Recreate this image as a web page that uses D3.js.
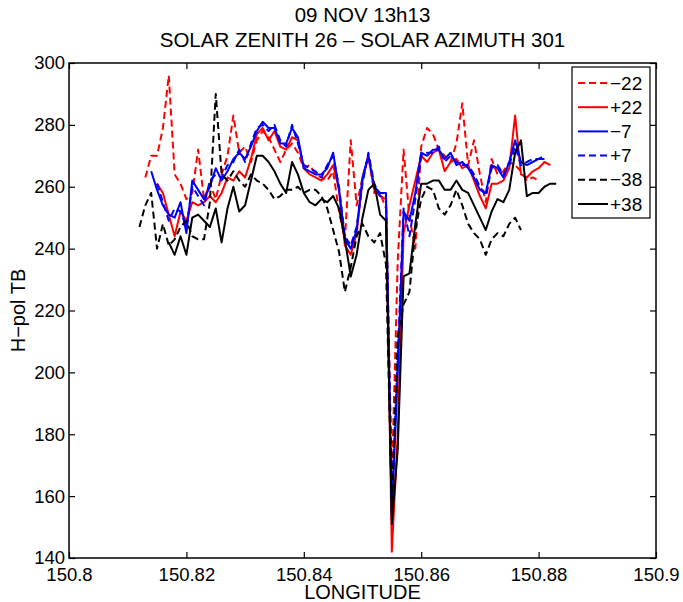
<!DOCTYPE html>
<html>
<head>
<meta charset="utf-8">
<script src="https://cdn.jsdelivr.net/npm/d3@7"></script>
<style>
  body { margin: 0; background: #fff; }
  svg { display: block; }
  text { font-family: "Liberation Sans", Arial, Helvetica, sans-serif; fill: #000; }
</style>
</head>
<body>
<svg id="chart" width="683" height="602"></svg>
<script>
// Longitude samples (one every 0.001 deg) shared by all incidence-angle tracks
const longitude = d3.range(72).map(k => +(150.812 + k * 0.001).toFixed(3));

// H-pol brightness temperature (K) per incidence angle; null = no sample
const tbMinus22 = [null,
  263,270,270,279,296,264,261,256,258,272,256,261,256,264,270,283,271,273,268,275,
  278,276,272,268,272,274,271,266,267,264,263,262,265,252,243,275,254,263,270,258,
  258,253,165,236,272,250,240,273,279,277,272,270,268,274,287,267,275,264,255,269,
  264,265,268,267,265,262,263,262,
  null,null,null];
const tbPlus22 = [null,null,null,
  261,258,251,244,252,249,255,254,255,257,255,258,263,262,265,263,269,277,279,275,
  278,273,272,276,275,266,264,263,262,264,267,259,241,238,245,262,270,259,257,256,
  142,180,245,254,262,270,268,271,272,265,268,269,266,267,262,257,253,261,261,262,
  266,283,264,263,265,266,268,267,
  null];
const tbMinus7 = [null,null,
  265,259,254,251,250,255,245,262,259,256,260,266,262,265,269,271,269,273,278,281,
  279,279,274,274,279,276,266,265,264,264,266,271,259,243,240,246,263,270,260,258,
  258,153,200,252,249,258,271,270,272,272,269,271,267,268,266,263,259,258,267,266,
  263,268,275,268,267,268,269,269,
  null,null];
const tbPlus7 = [null,null,null,
  261,255,249,253,252,247,260,257,254,262,264,263,267,268,272,268,274,279,280,278,
  280,275,273,280,274,267,266,265,263,267,270,260,244,241,247,261,271,261,257,257,
  160,205,253,244,256,270,271,271,273,268,270,268,267,267,264,260,257,266,267,264,
  267,273,267,268,269,269,270,
  null,null];
const tbMinus38 = [
  247,254,258,240,248,241,243,247,249,244,243,243,255,290,264,262,265,262,260,264,
  262,261,259,256,257,259,259,260,258,259,259,257,253,246,239,226,234,244,248,244,
  242,245,235,156,212,222,226,246,256,260,259,253,251,254,259,254,248,245,243,238,
  243,245,244,248,250,246,
  null,null,null,null,null,null];
const tbPlus38 = [null,null,null,null,null,
  242,238,244,238,250,251,249,247,253,242,253,260,252,254,262,270,270,268,265,261,
  258,268,264,258,255,254,256,255,257,253,243,231,238,250,259,261,251,249,151,175,
  231,232,248,261,261,262,262,259,259,262,259,258,254,250,246,252,256,255,259,271,
  275,257,258,258,260,261,261];

const seriesNames = ["\u221222", "+22", "\u22127", "+7", "\u221238", "+38"];
const seriesValues = [tbMinus22, tbPlus22, tbMinus7, tbPlus7, tbMinus38, tbPlus38];
const seriesColors = ["#ff0000", "#ff0000", "#0000ff", "#0000ff", "#000000", "#000000"];
const seriesDashed = [true, false, false, true, true, false];

const xTicks = [150.8, 150.82, 150.84, 150.86, 150.88, 150.9];
const yTicks = [140, 160, 180, 200, 220, 240, 260, 280, 300];

const titleLines = ["09 NOV 13h13", "SOLAR ZENITH 26 \u2013 SOLAR AZIMUTH 301"];

// ---- layout ----
const svg = d3.select("#chart");
const plot = { left: 69, right: 656, top: 63, bottom: 558 };

const x = d3.scaleLinear().domain([150.8, 150.9]).range([plot.left, plot.right]);
const y = d3.scaleLinear().domain([140, 300]).range([plot.bottom, plot.top]);

// ---- data lines ----
const line = d3.line()
  .defined(d => d[1] != null)
  .x(d => x(d[0]))
  .y(d => y(d[1]));

seriesValues.forEach((vals, i) => {
  svg.append("path")
    .datum(longitude.map((lon, k) => [lon, vals[k]]))
    .attr("fill", "none")
    .attr("stroke", seriesColors[i])
    .attr("stroke-width", 2)
    .attr("stroke-linejoin", "round")
    .attr("stroke-dasharray", seriesDashed[i] ? "7,4" : null)
    .attr("d", line);
});

// ---- axes: box with inward ticks on all four sides ----
const fmtX = d3.format(".2~f");
const tickFont = 18.5;

svg.append("g")
  .attr("transform", `translate(0,${plot.bottom})`)
  .call(d3.axisBottom(x).tickValues(xTicks).tickFormat(fmtX)
    .tickSizeInner(-6).tickSizeOuter(0).tickPadding(10));
svg.append("g")
  .attr("transform", `translate(0,${plot.top})`)
  .call(d3.axisTop(x).tickValues(xTicks).tickFormat("")
    .tickSizeInner(-6).tickSizeOuter(0));
svg.append("g")
  .attr("transform", `translate(${plot.left},0)`)
  .call(d3.axisLeft(y).tickValues(yTicks).tickFormat(d3.format("d"))
    .tickSizeInner(-6).tickSizeOuter(0).tickPadding(4));
svg.append("g")
  .attr("transform", `translate(${plot.right},0)`)
  .call(d3.axisRight(y).tickValues(yTicks).tickFormat("")
    .tickSizeInner(-6).tickSizeOuter(0));

svg.selectAll(".domain").remove();
svg.selectAll(".tick line").attr("stroke", "#000").attr("stroke-width", 1.2);
svg.selectAll(".tick text")
  .style("font-size", tickFont + "px")
  .attr("fill", "#000");
svg.selectAll("g").attr("font-family", null).attr("font-size", null);

svg.append("rect")
  .attr("x", plot.left).attr("y", plot.top)
  .attr("width", plot.right - plot.left).attr("height", plot.bottom - plot.top)
  .attr("fill", "none").attr("stroke", "#000").attr("stroke-width", 1.5);

// ---- titles and axis labels ----
svg.append("text")
  .attr("x", (plot.left + plot.right) / 2).attr("y", 22)
  .attr("text-anchor", "middle").style("font-size", "20.5px")
  .text(titleLines[0]);
svg.append("text")
  .attr("x", (plot.left + plot.right) / 2).attr("y", 47)
  .attr("text-anchor", "middle").style("font-size", "20.5px")
  .text(titleLines[1]);

svg.append("text")
  .attr("x", (plot.left + plot.right) / 2).attr("y", 599)
  .attr("text-anchor", "middle").style("font-size", "20px")
  .text("LONGITUDE");

svg.append("text")
  .attr("transform", `translate(25,${(plot.top + plot.bottom) / 2}) rotate(-90)`)
  .attr("text-anchor", "middle").style("font-size", "20px")
  .text("H\u2212pol TB");

// ---- legend ----
const legend = svg.append("g");
legend.append("rect")
  .attr("x", 572).attr("y", 67).attr("width", 78).attr("height", 151)
  .attr("fill", "#fff").attr("stroke", "#000").attr("stroke-width", 1.2);

seriesNames.forEach((name, i) => {
  const ly = 83 + i * 24.2;
  legend.append("line")
    .attr("x1", 578).attr("x2", 608).attr("y1", ly).attr("y2", ly)
    .attr("stroke", seriesColors[i]).attr("stroke-width", 2)
    .attr("stroke-dasharray", seriesDashed[i] ? "7,4" : null);
  legend.append("text")
    .attr("x", 610).attr("y", ly).attr("dy", "0.35em")
    .style("font-size", "19px")
    .text(name);
});
</script>
</body>
</html>
